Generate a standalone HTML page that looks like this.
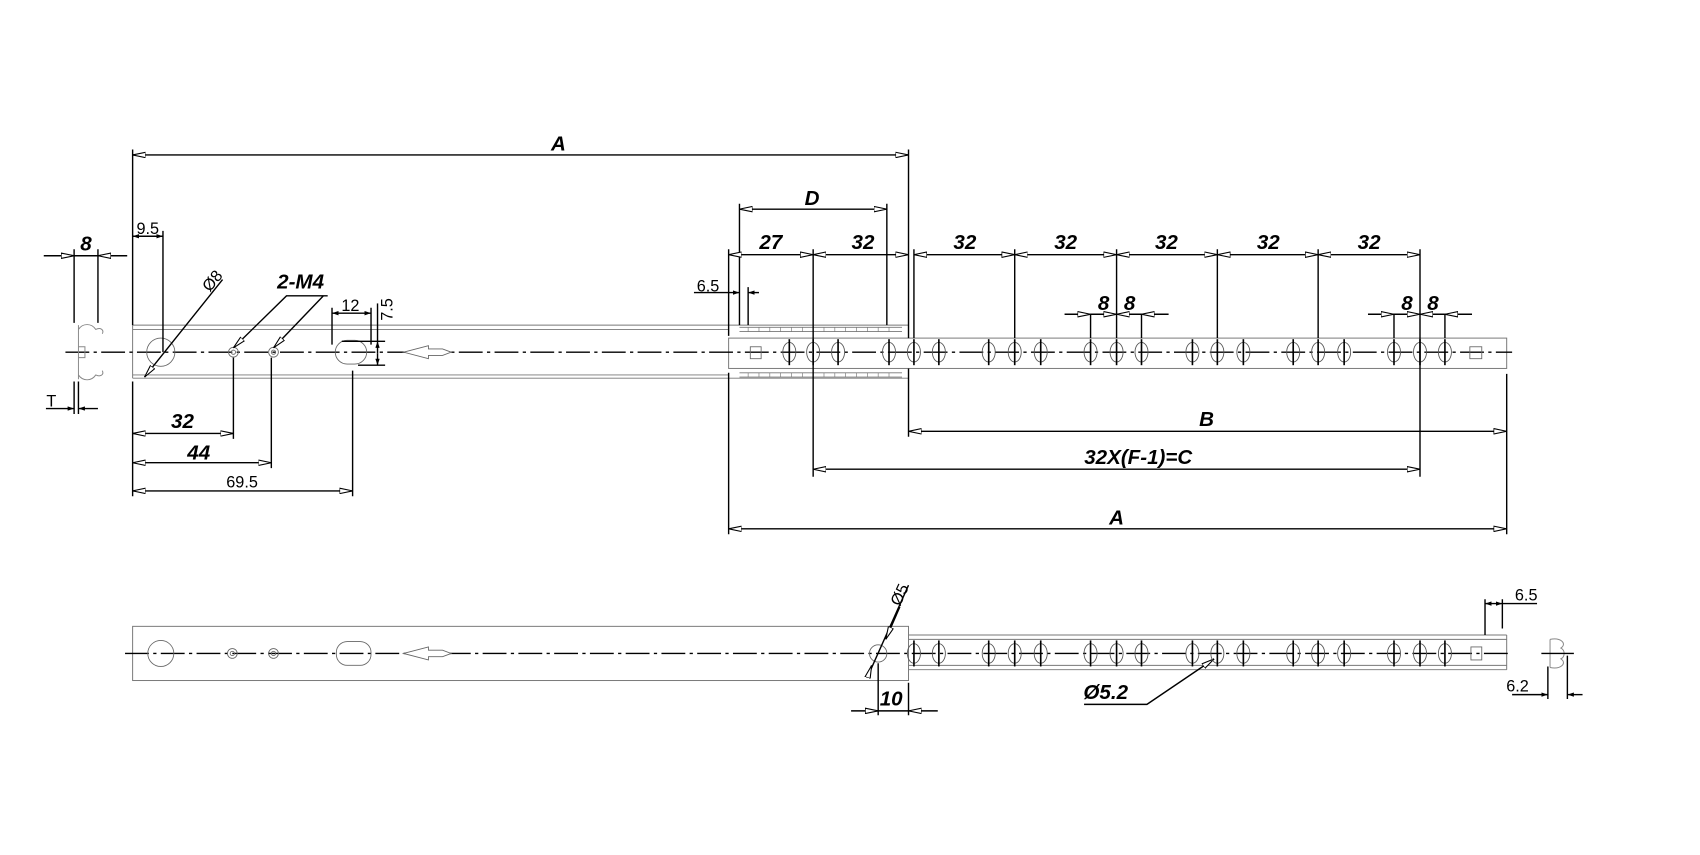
<!DOCTYPE html>
<html><head><meta charset="utf-8"><style>
html,body{margin:0;padding:0;background:#fff;}
svg{display:block;}
text{font-family:"Liberation Sans",sans-serif;fill:#000;}
.b{font-weight:bold;font-style:italic;font-size:19px;}
.n{font-size:15px;}
</style></head><body>
<svg width="1700" height="855" viewBox="0 0 1568 789" xmlns="http://www.w3.org/2000/svg">
<defs>
<marker id="a" viewBox="0 0 12 6" refX="12" refY="3" markerWidth="12" markerHeight="6" markerUnits="userSpaceOnUse" orient="auto-start-reverse">
<path d="M0,0.5 L12,3 L0,5.5 Z" fill="#fff" stroke="#000" stroke-width="1"/></marker>
<marker id="s" viewBox="0 0 6 4" refX="6" refY="2" markerWidth="6" markerHeight="4" markerUnits="userSpaceOnUse" orient="auto-start-reverse">
<path d="M0,0 L6,2 L0,4 Z" fill="#000"/></marker>
<g id="h"><ellipse rx="6" ry="9" fill="none" stroke="#555" stroke-width="0.8"/><line x1="0" y1="-12" x2="0" y2="12" stroke="#000" stroke-width="1.5"/></g>
<g id="sh"><circle r="4.5" fill="none" stroke="#666" stroke-width="0.8"/><circle r="2" fill="none" stroke="#666" stroke-width="0.8"/></g>
</defs>
<g stroke="#000" stroke-width="1.3" fill="none">
<path d="M122,300 H672 M122,304 H672 M122,346 H672 M122,349 H672" stroke="#777" stroke-width="0.9"/>
<path d="M122,300 V349" stroke="#777" stroke-width="0.9"/>
<path d="M672,300 H838 V349 H672" stroke="#777" stroke-width="0.9"/>
<path d="M682,302 H832 M682,306 H832 M682,344 H832 M682,348 H832" stroke="#777" stroke-width="0.8"/>
<path d="M690,302v4 M700,302v4 M710,302v4 M720,302v4 M730,302v4 M740,302v4 M750,302v4 M760,302v4 M770,302v4 M780,302v4 M790,302v4 M800,302v4 M810,302v4 M820,302v4 M690,344v4 M700,344v4 M710,344v4 M720,344v4 M730,344v4 M740,344v4 M750,344v4 M760,344v4 M770,344v4 M780,344v4 M790,344v4 M800,344v4 M810,344v4 M820,344v4" stroke="#777" stroke-width="0.6"/>
<rect x="672" y="312" width="718" height="28" stroke="#777" stroke-width="0.9" fill="#fff"/>
<path d="M60,325 H1395" stroke-dasharray="22,4,3,4" stroke-width="1.2"/>
<circle cx="148" cy="325" r="13" stroke="#666" stroke-width="0.8"/>
<use href="#sh" x="215" y="325"/><use href="#sh" x="252" y="325"/>
<rect x="309" y="314" width="29" height="22" rx="11" stroke="#666" stroke-width="0.8"/>
<path d="M372,325 L395,319 V322 H408 L416,325 L408,328 H395 V331 Z" stroke="#666" stroke-width="0.8" fill="#fff"/>
<rect x="692" y="320" width="10" height="11" stroke="#666" stroke-width="0.8"/>
<rect x="1356" y="320" width="11" height="11" stroke="#666" stroke-width="0.8"/>
</g>
<g>
<use href="#h" x="728" y="325"/><use href="#h" x="750" y="325"/><use href="#h" x="773" y="325"/>
<use href="#h" x="820" y="325"/><use href="#h" x="843" y="325"/><use href="#h" x="866" y="325"/>
<use href="#h" x="912" y="325"/><use href="#h" x="936" y="325"/><use href="#h" x="960" y="325"/>
<use href="#h" x="1006" y="325"/><use href="#h" x="1030" y="325"/><use href="#h" x="1053" y="325"/>
<use href="#h" x="1100" y="325"/><use href="#h" x="1123" y="325"/><use href="#h" x="1147" y="325"/>
<use href="#h" x="1193" y="325"/><use href="#h" x="1216" y="325"/><use href="#h" x="1240" y="325"/>
<use href="#h" x="1286" y="325"/><use href="#h" x="1310" y="325"/><use href="#h" x="1333" y="325"/>
</g>
<g stroke="#000" stroke-width="1.3" fill="none">
<path d="M72,300 V350 M72,304 C76,298 84,298 88,304 C92,302 96,304 94,308 M72,346 C76,352 84,352 88,346 C92,348 96,346 94,342 M72,320 H78 V330 H72" stroke="#888" stroke-width="0.9"/>
<path d="M122,138 V300 M122,352 V458 M838,138 V312 M838,340 V403 M682,188 V300 M818,188 V300 M672,230 V310 M672,344 V493 M750,230 V440 M1390,345 V493 M1310,230 V440"/>
<path d="M936,230 V312 M1030,230 V312 M1123,230 V312 M1216,230 V312 M843,230 V312 M690,265 V300"/>
<path d="M1006,290 V312 M1053,290 V312 M1286,290 V312 M1333,290 V312"/>
<path d="M150,213 V325 M68,230 V298 M90,230 V298 M68,352 V382 M72,352 V382"/>
<path d="M215,330 V405 M250,330 V432 M325,342 V458 M306,284 V318 M342,284 V318 M315,315 H355 M330,337 H355"/>
<path d="M122,143 H838" marker-start="url(#a)" marker-end="url(#a)"/>
<path d="M682,193 H818" marker-start="url(#a)" marker-end="url(#a)"/>
<path d="M672,235 H750" marker-start="url(#a)" marker-end="url(#a)"/>
<path d="M750,235 H838" marker-start="url(#a)" marker-end="url(#a)"/>
<path d="M843,235 H936" marker-start="url(#a)" marker-end="url(#a)"/>
<path d="M936,235 H1030" marker-start="url(#a)" marker-end="url(#a)"/>
<path d="M1030,235 H1123" marker-start="url(#a)" marker-end="url(#a)"/>
<path d="M1123,235 H1216" marker-start="url(#a)" marker-end="url(#a)"/>
<path d="M1216,235 H1310" marker-start="url(#a)" marker-end="url(#a)"/>
<path d="M640,270 H682" marker-end="url(#s)"/><path d="M700,270 H690" marker-end="url(#s)"/>
<path d="M982,290 H1006" marker-end="url(#a)"/><path d="M1006,290 H1030" marker-end="url(#a)"/><path d="M1053,290 H1030" marker-end="url(#a)"/><path d="M1078,290 H1053" marker-end="url(#a)"/>
<path d="M1262,290 H1286" marker-end="url(#a)"/><path d="M1286,290 H1310" marker-end="url(#a)"/><path d="M1333,290 H1310" marker-end="url(#a)"/><path d="M1358,290 H1333" marker-end="url(#a)"/>
<path d="M838,398 H1390" marker-start="url(#a)" marker-end="url(#a)"/>
<path d="M750,433 H1310" marker-start="url(#a)" marker-end="url(#a)"/>
<path d="M672,488 H1390" marker-start="url(#a)" marker-end="url(#a)"/>
<path d="M40,236 H68" marker-end="url(#a)"/><path d="M117,236 H90" marker-end="url(#a)"/><path d="M68,236 H90"/>
<path d="M122,218 H150" marker-start="url(#s)" marker-end="url(#s)"/>
<path d="M42,377 H68" marker-end="url(#s)"/><path d="M90,377 H72" marker-end="url(#s)"/>
<path d="M122,400 H215" marker-start="url(#a)" marker-end="url(#a)"/>
<path d="M122,427 H250" marker-start="url(#a)" marker-end="url(#a)"/>
<path d="M122,453 H325" marker-start="url(#a)" marker-end="url(#a)"/>
<path d="M306,289 H342" marker-start="url(#s)" marker-end="url(#s)"/>
<path d="M348,280 V315"/><path d="M348,326 V337" marker-end="url(#s)"/><path d="M348,326 V315" marker-end="url(#s)"/>
<path d="M205,258 L133,348" marker-end="url(#a)"/>
<path d="M302,273 H264 L215,321" marker-end="url(#a)"/>
<path d="M298,273 L252,321" marker-end="url(#a)"/>

<rect x="122" y="578" width="716" height="50" stroke="#777" stroke-width="0.9"/>
<path d="M838,586 H1390 M838,590 H1390 M838,614 H1390 M838,618 H1390 M1390,586 V618" stroke="#777" stroke-width="0.9"/>
<path d="M115,603 H1392" stroke-dasharray="22,4,3,4" stroke-width="1.2"/>
<circle cx="148" cy="603" r="12" stroke="#666" stroke-width="0.8"/>
<use href="#sh" x="214" y="603"/><use href="#sh" x="252" y="603"/>
<rect x="310" y="592" width="32" height="22" rx="10" stroke="#666" stroke-width="0.8"/>
<path d="M372,603 L395,597 V600 H408 L416,603 L408,606 H395 V609 Z" stroke="#666" stroke-width="0.8" fill="#fff"/>
<circle cx="810" cy="603" r="8" stroke="#666" stroke-width="0.8"/>
<rect x="1357" y="597" width="10" height="12" stroke="#666" stroke-width="0.8"/>
<path d="M1430,590 C1440,588 1446,594 1440,598 C1444,600 1444,606 1440,608 C1446,612 1440,618 1430,616 M1430,590 V616" stroke="#888" stroke-width="0.9"/>
<path d="M1422,603 H1452"/>
<path d="M838,540 L800,625"/>
<path d="M830,560 L817,590" marker-end="url(#a)"/><path d="M802,620 L804,614" marker-end="url(#a)"/>
<path d="M810,612 V660 M838,630 V660"/>
<path d="M785,656 H810" marker-end="url(#a)"/><path d="M865,656 H838" marker-end="url(#a)"/><path d="M810,656 H838"/>
<path d="M1000,650 H1058 L1120,608" marker-end="url(#a)"/>
<path d="M1370,553 V586 M1386,553 V580"/>
<path d="M1370,557 H1386" marker-start="url(#s)" marker-end="url(#s)"/><path d="M1386,557 H1418"/>
<path d="M1428,615 V645 M1446,605 V645"/>
<path d="M1395,641 H1428" marker-end="url(#s)"/><path d="M1460,641 H1446" marker-end="url(#s)"/>
</g>
<g>
<use href="#h" x="843" y="603"/><use href="#h" x="866" y="603"/>
<use href="#h" x="912" y="603"/><use href="#h" x="936" y="603"/><use href="#h" x="960" y="603"/>
<use href="#h" x="1006" y="603"/><use href="#h" x="1030" y="603"/><use href="#h" x="1053" y="603"/>
<use href="#h" x="1100" y="603"/><use href="#h" x="1123" y="603"/><use href="#h" x="1147" y="603"/>
<use href="#h" x="1193" y="603"/><use href="#h" x="1216" y="603"/><use href="#h" x="1240" y="603"/>
<use href="#h" x="1286" y="603"/><use href="#h" x="1310" y="603"/><use href="#h" x="1333" y="603"/>
</g>
<text class="b" x="515" y="139" text-anchor="middle">A</text>
<text class="b" x="749" y="189" text-anchor="middle">D</text>
<text class="b" x="711" y="230" text-anchor="middle">27</text>
<text class="b" x="796" y="230" text-anchor="middle">32</text>
<text class="b" x="890" y="230" text-anchor="middle">32</text>
<text class="b" x="983" y="230" text-anchor="middle">32</text>
<text class="b" x="1076" y="230" text-anchor="middle">32</text>
<text class="b" x="1170" y="230" text-anchor="middle">32</text>
<text class="b" x="1263" y="230" text-anchor="middle">32</text>
<text class="n" x="653" y="269" text-anchor="middle">6.5</text>
<text class="b" x="1018" y="286" text-anchor="middle">8</text>
<text class="b" x="1042" y="286" text-anchor="middle">8</text>
<text class="b" x="1298" y="286" text-anchor="middle">8</text>
<text class="b" x="1322" y="286" text-anchor="middle">8</text>
<text class="b" x="1113" y="393" text-anchor="middle">B</text>
<text class="b" x="1050" y="428" text-anchor="middle">32X(F-1)=C</text>
<text class="b" x="1030" y="484" text-anchor="middle">A</text>
<text class="b" x="79" y="231" text-anchor="middle">8</text>
<text class="n" x="136" y="216" text-anchor="middle">9.5</text>
<text class="n" x="47" y="375" text-anchor="middle">T</text>
<text class="n" transform="translate(193,270) rotate(-50)">Ø8</text>
<text class="b" x="277" y="266" text-anchor="middle">2-M4</text>
<text class="n" x="323" y="287" text-anchor="middle">12</text>
<text class="n" transform="translate(362,296) rotate(-90)">7.5</text>
<text class="b" x="168" y="395" text-anchor="middle">32</text>
<text class="b" x="183" y="424" text-anchor="middle">44</text>
<text class="n" x="223" y="450" text-anchor="middle">69.5</text>
<text class="n" transform="translate(830,560) rotate(-65)">Ø5</text>
<text class="b" x="822" y="651" text-anchor="middle">10</text>
<text class="b" x="1020" y="645" text-anchor="middle">Ø5.2</text>
<text class="n" x="1408" y="554" text-anchor="middle">6.5</text>
<text class="n" x="1400" y="638" text-anchor="middle">6.2</text>
</svg>
</body></html>
